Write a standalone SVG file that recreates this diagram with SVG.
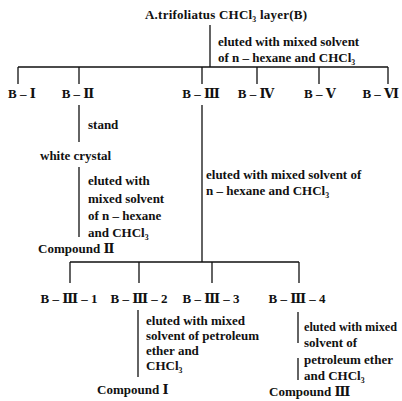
<svg xmlns="http://www.w3.org/2000/svg" width="402" height="401" viewBox="0 0 402 401">
<style>
text{font-family:"Liberation Serif","DejaVu Serif",serif;font-size:13px;font-weight:bold;fill:#111}
.m{text-anchor:middle}
#connectors path{stroke:#111;stroke-width:1.3;fill:none}
</style>
<rect width="402" height="401" fill="#fff"/>
<g id="connectors">
<path d="M210,25V67M18,67H388M18,67V84M79,67V84M202,67V84M257,67V84M319,67V84M388,67V84"/>
<path d="M79,105V142M79,167V237"/>
<path d="M202,105V262M70,262H299M70,262V283M139,262V283M212,262V283M299,262V283"/>
<path d="M138,310V377M298,312V343M298,358V380"/>
</g>
<g id="root"><text x="145" y="19" textLength="162">A.trifoliatus CHCl₃ layer(B)</text></g>
<g id="elute1"><text x="218" y="46">eluted with mixed solvent</text><text x="218" y="62">of n – hexane and CHCl₃</text></g>
<g id="B1"><text class="m" x="22" y="98">B – Ⅰ</text></g>
<g id="B2"><text class="m" x="78" y="98">B – Ⅱ</text></g>
<g id="B3"><text class="m" x="201" y="98">B – Ⅲ</text></g>
<g id="B4"><text class="m" x="256" y="98">B – Ⅳ</text></g>
<g id="B5"><text class="m" x="320" y="98">B – Ⅴ</text></g>
<g id="B6"><text x="399" y="98" text-anchor="end">B – Ⅵ</text></g>
<g id="stand"><text x="88" y="129">stand</text></g>
<g id="crystal"><text x="40" y="160">white crystal</text></g>
<g id="elute2"><text x="88" y="185">eluted with</text><text x="88" y="203">mixed solvent</text><text x="88" y="220">of n – hexane</text><text x="88" y="237">and CHCl₃</text></g>
<g id="comp2"><text x="38" y="253">Compound Ⅱ</text></g>
<g id="elute3"><text x="206" y="179">eluted with mixed solvent of</text><text x="206" y="195">n – hexane and CHCl₃</text></g>
<g id="B31"><text class="m" x="69" y="303">B – Ⅲ – 1</text></g>
<g id="B32"><text class="m" x="139" y="303">B – Ⅲ – 2</text></g>
<g id="B33"><text class="m" x="211" y="303">B – Ⅲ – 3</text></g>
<g id="B34"><text class="m" x="297" y="303">B – Ⅲ – 4</text></g>
<g id="elute4"><text x="146" y="325">eluted with mixed</text><text x="146" y="340">solvent of petroleum</text><text x="146" y="355">ether and</text><text x="146" y="370">CHCl₃</text></g>
<g id="comp1"><text x="97" y="394">Compound Ⅰ</text></g>
<g id="elute5"><text x="304" y="331" textLength="93" lengthAdjust="spacingAndGlyphs">eluted with mixed</text><text x="304" y="347">solvent of</text><text x="304" y="364">petroleum ether</text><text x="304" y="380">and CHCl₃</text></g>
<g id="comp3"><text x="269" y="396">Compound Ⅲ</text></g>
</svg>
